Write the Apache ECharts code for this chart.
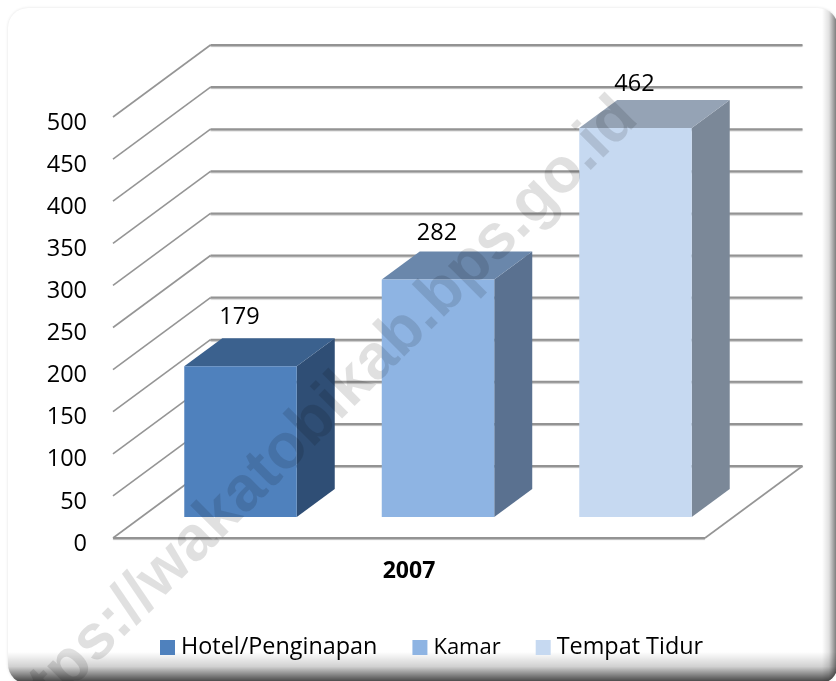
<!DOCTYPE html>
<html><head><meta charset="utf-8">
<style>html,body{margin:0;padding:0;background:#fff}#c{width:836px;height:681px}</style>
<script src="https://cdn.jsdelivr.net/npm/echarts@6/dist/echarts.min.js"></script>
</head><body><div id="c"></div>
<script>
const years = ['2007'];
const hotel = [179];
const kamar = [282];
const tempatTidur = [462];
const yTicks = [0,50,100,150,200,250,300,350,400,450,500];
const FONT = '"Open Sans"';
const WALL = [97.5, -72], NEAR = [29, -21], DEPTH = [38, -28];
const BAR_W = 0.19, STEP = 0.3336;

function wall(params, api) {
  const band = api.size([1, 0])[0];
  const c = api.coord([api.value(0), api.value(1)]);
  const x0 = c[0] - band / 2, y = c[1];
  const flat = {stroke: '#939393', lineWidth: 2, fill: null,
    shadowColor: 'rgba(0,0,0,0.28)', shadowBlur: 1, shadowOffsetY: 1};
  const slant = {stroke: '#959595', lineWidth: 1.6, fill: null};
  const bx = x0 + WALL[0], by = y + WALL[1];
  const kids = [
    {type: 'line', shape: {x1: x0, y1: y, x2: bx, y2: by}, style: slant},
    {type: 'line', shape: {x1: bx, y1: by, x2: bx + band, y2: by}, style: flat}
  ];
  if (api.value(1) === 0) {
    kids.push({type: 'line', shape: {x1: bx + band, y1: by, x2: x0 + band, y2: y}, style: slant});
    kids.push({type: 'line', shape: {x1: x0, y1: y, x2: x0 + band, y2: y}, style: flat});
  }
  return {type: 'group', silent: true, children: kids};
}
function bar(slot, colors, labelGap) {
  return function (params, api) {
    const band = api.size([1, 0])[0];
    const t = api.coord([api.value(0), api.value(1)]);
    const b = api.coord([api.value(0), 0]);
    const w = band * BAR_W;
    const l = t[0] + slot * STEP * band + NEAR[0] - w / 2, r = l + w;
    const top = t[1] + NEAR[1], bot = b[1] + NEAR[1];
    const dx = DEPTH[0], dy = DEPTH[1];
    return {type: 'group', children: [
      {type: 'polygon', shape: {points: [[r, top], [r + dx, top + dy], [r + dx, bot + dy], [r, bot]]}, style: {fill: colors[2]}},
      {type: 'polygon', shape: {points: [[l, top], [l + dx, top + dy], [r + dx, top + dy], [r, top]]}, style: {fill: colors[1]}},
      {type: 'rect', shape: {x: l, y: top, width: w, height: bot - top}, style: {fill: colors[0]}},
      {type: 'text', x: (l + r) / 2 - 1, y: top + dy - labelGap, style: {text: String(api.value(1)), fill: '#000', font: '23.5px ' + FONT, align: 'center', verticalAlign: 'middle'}}
    ]};
  };
}
const rows = a => years.map((y, i) => [y, a[i]]);
const fade = (x, y, x2, y2, stops) => ({type: 'linear', x, y, x2, y2, global: true,
  colorStops: stops.map(s => ({offset: s[0], color: 'rgba(0,0,0,' + s[1] + ')'}))});
const card = {x: 8, y: 8, width: 830, height: 676, r: 20};
const chart = echarts.init(document.getElementById('c'), null, {renderer: 'canvas'});
chart.setOption({
  animation: false,
  backgroundColor: '#fff',
  grid: {left: 113, top: 117, width: 592, height: 421},
  xAxis: {type: 'category', data: years, axisLine: {show: false}, axisTick: {show: false},
    axisLabel: {color: '#000', fontFamily: FONT, fontSize: 23, fontWeight: 'bold', margin: 22}},
  yAxis: {type: 'value', min: 0, max: 500, interval: 50, axisLine: {show: false}, axisTick: {show: false}, splitLine: {show: false},
    axisLabel: {color: '#000', fontFamily: FONT, fontSize: 23.5, margin: 26, verticalAlign: 'top', lineHeight: 12}},
  legend: {show: true, left: 155, top: 631, itemWidth: 15, itemHeight: 15, itemGap: 35, icon: 'rect',
    data: ['Hotel/Penginapan', {name: 'Kamar', textStyle: {fontSize: 22}}, 'Tempat Tidur'],
    textStyle: {color: '#000', fontFamily: FONT, fontSize: 23.4, padding: [0, 0, 0, 1]}},
  graphic: [
    {type: 'rect', z: -10, shape: card, style: {fill: '#fff', shadowBlur: 3, shadowColor: 'rgba(0,0,0,0.12)'}},
    {type: 'rect', z: -9, shape: card, style: {fill: fade(0, 652, 0, 681, [[0, 0], [0.5, 0.18], [1, 0.7]])}},
    {type: 'rect', z: -9, shape: card, style: {fill: fade(822, 0, 836, 0, [[0, 0], [0.5, 0.12], [1, 0.5]])}},
    {type: 'text', z: 100, x: 313, y: 423, rotation: 0.785, silent: true,
     style: {text: 'https://wakatobikab.bps.go.id', font: 'bold 63.3px "Liberation Sans"', fill: 'rgba(0,0,0,0.12)', align: 'center', verticalAlign: 'middle'}}
  ],
  series: [
    {type: 'custom', name: 'wall', z: 1, data: yTicks.map(t => [years[0], t]), encode: {x: 0, y: 1}, renderItem: wall},
    {type: 'custom', name: 'Hotel/Penginapan', z: 3, data: rows(hotel), encode: {x: 0, y: 1}, itemStyle: {color: '#4F81BD'},
     renderItem: bar(-1, ['#4F81BD', '#3B618E', '#2F4E75'], 21)},
    {type: 'custom', name: 'Kamar', z: 3, data: rows(kamar), encode: {x: 0, y: 1}, itemStyle: {color: '#8EB4E3'},
     renderItem: bar(0, ['#8EB4E3', '#6A87AB', '#5A7190'], 18)},
    {type: 'custom', name: 'Tempat Tidur', z: 3, data: rows(tempatTidur), encode: {x: 0, y: 1}, itemStyle: {color: '#C6D9F1'},
     renderItem: bar(1, ['#C6D9F1', '#95A3B5', '#7B8898'], 16)}
  ]
});
</script></body></html>
